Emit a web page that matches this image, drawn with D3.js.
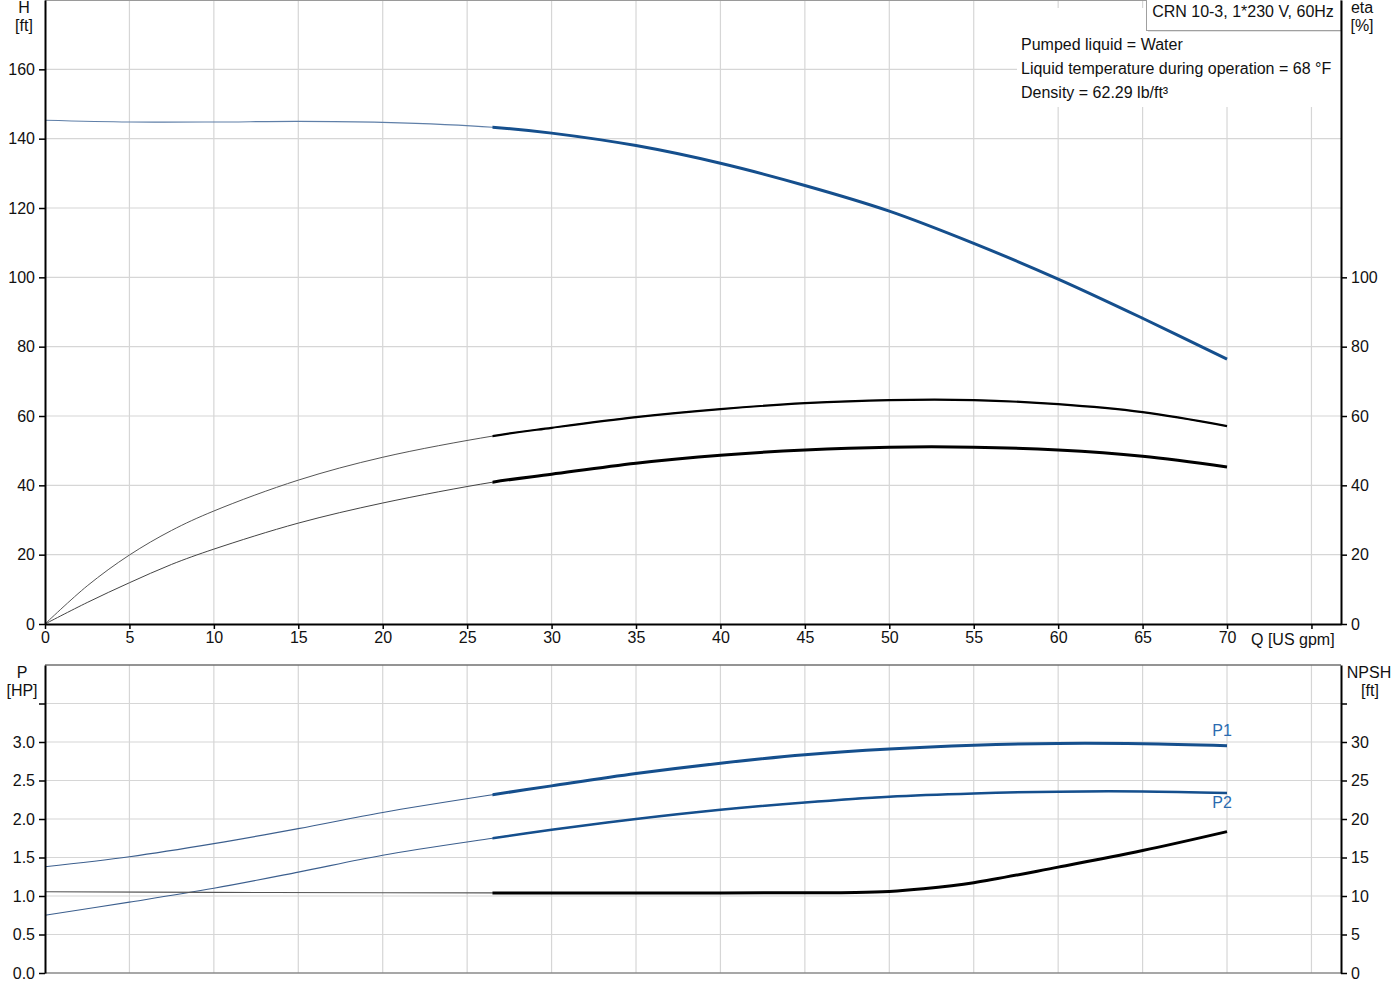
<!DOCTYPE html>
<html><head><meta charset="utf-8">
<script src="https://cdn.jsdelivr.net/npm/d3@7"></script>
<style>
html,body{margin:0;padding:0;background:#fff;}
svg text{font-family:"Liberation Sans",Arial,sans-serif;}
</style></head>
<body><svg id="c" width="1400" height="1000"></svg>
<script>
// ---------- data ----------
const qTicks = [0,5,10,15,20,25,30,35,40,45,50,55,60,65,70];
const qGrid = [5,10,15,20,25,30,35,40,45,50,55,60,65,70,75];
const hTicks = [0,20,40,60,80,100,120,140,160];
const etaTicks = [0,20,40,60,80,100];
const pTicks = [0,0.5,1,1.5,2,2.5,3,3.5];
const npshTicks = [0,5,10,15,20,25,30,35];
const dutyStart = 26.5;

const qH   = [0,5,10,15,20,26.5,30,35,40,45,50,55,60,65,70];
const hVal = [145.3,144.8,144.8,145.0,144.7,143.3,141.6,138.0,132.9,126.5,119.1,109.8,99.5,88.2,76.4];

const qEta = [0,2.5,5,7.5,10,15,20,26.5,30,35,40,45,50,55,60,65,70];
const eta1 = [0,11,19.9,27,32.6,41.5,48.1,54.2,56.6,59.7,62.0,63.7,64.6,64.6,63.4,61.1,57.1];
const eta2 = [0,6.2,11.9,17.2,21.6,29.1,34.9,40.9,43.2,46.4,48.7,50.2,51.0,51.0,50.2,48.4,45.3];

const qP  = [0,5,10,15,20,26.5,30,35,40,45,50,55,60,65,70];
const p1  = [1.38,1.51,1.68,1.875,2.085,2.315,2.43,2.59,2.725,2.835,2.91,2.958,2.982,2.978,2.952];
const p2  = [0.75,0.92,1.10,1.31,1.53,1.75,1.86,2.00,2.12,2.215,2.29,2.332,2.355,2.357,2.337];

const qN  = [0,10,20,26.5,30,40,45,48,50,52,55,60,65,70];
const npsh= [10.55,10.47,10.42,10.4,10.4,10.4,10.42,10.46,10.6,10.95,11.73,13.75,15.9,18.36];

const infoLines = ["Pumped liquid = Water","Liquid temperature during operation = 68 °F","Density = 62.29 lb/ft³"];
const title = "CRN 10-3, 1*230 V, 60Hz";

// ---------- scales ----------
const svg = d3.select("#c");
const L = 45, R = 1341;
const x = d3.scaleLinear().domain([0,76.75]).range([L,R]);
const yH = d3.scaleLinear().domain([0,180]).range([624,0]);
const yEta = d3.scaleLinear().domain([0,180]).range([624,0]);
const yP = d3.scaleLinear().domain([0,4]).range([973,665]);
const yN = d3.scaleLinear().domain([0,40]).range([973,665]);

const BLUE = "#154f8d", LBLUE = "#2a6bb0", GRID = "#d6d6d6";
const FS = 16;

// ---------- top chart grid ----------
const gTop = svg.append("g");
gTop.selectAll(".vg").data(qGrid).join("line")
  .attr("x1",d=>x(d)).attr("x2",d=>x(d)).attr("y1",yH(180)).attr("y2",yH(0))
  .attr("stroke",GRID).attr("stroke-width",1.2);
gTop.selectAll(".hg").data(hTicks.slice(1)).join("line")
  .attr("x1",L).attr("x2",R).attr("y1",d=>yH(d)).attr("y2",d=>yH(d))
  .attr("stroke",GRID).attr("stroke-width",1.2);
gTop.append("line").attr("x1",L).attr("x2",R).attr("y1",yH(180)+0.5).attr("y2",yH(180)+0.5)
  .attr("stroke","#9a9a9a").attr("stroke-width",1);

// bottom chart grid
const gBot = svg.append("g");
gBot.selectAll(".vg").data(qGrid).join("line")
  .attr("x1",d=>x(d)).attr("x2",d=>x(d)).attr("y1",yP(4)).attr("y2",yP(0))
  .attr("stroke",GRID).attr("stroke-width",1.2);
gBot.selectAll(".hg").data(pTicks.slice(1)).join("line")
  .attr("x1",L).attr("x2",R).attr("y1",d=>yP(d)).attr("y2",d=>yP(d))
  .attr("stroke",GRID).attr("stroke-width",1.2);
gBot.append("line").attr("x1",L).attr("x2",R).attr("y1",yP(4)).attr("y2",yP(4))
  .attr("stroke","#707070").attr("stroke-width",1.3);
gBot.append("line").attr("x1",L).attr("x2",R).attr("y1",yP(0)).attr("y2",yP(0))
  .attr("stroke","#8a8a8a").attr("stroke-width",1.5);

// ---------- info box (covers grid) ----------
svg.append("rect").attr("x",1017).attr("y",8).attr("width",R-1017).attr("height",99).attr("fill","#fff");
svg.append("rect").attr("x",1146.5).attr("y",-1).attr("width",R-1146.5).attr("height",31.5)
  .attr("fill","#fff").attr("stroke","#a0a0a0").attr("stroke-width",1);
svg.append("line").attr("x1",1148).attr("x2",R).attr("y1",31.5).attr("y2",31.5).attr("stroke","#e4e4e4");
svg.append("text").attr("x",1243).attr("y",17).attr("text-anchor","middle").attr("font-size",16)
  .attr("fill","#111").text(title);
svg.selectAll(".info").data(infoLines).join("text")
  .attr("x",1021).attr("y",(d,i)=>49.5+i*24).attr("font-size",FS).attr("fill","#111").text(d=>d);

// ---------- curves ----------
svg.append("clipPath").attr("id","duty").append("rect")
  .attr("x",x(dutyStart)).attr("y",0).attr("width",R-x(dutyStart)).attr("height",1000);

function curve(qs, vs, ys, color, thinW, thickW, thinColor){
  const pts = qs.map((q,i)=>[q,vs[i]]);
  const line = d3.line().x(d=>x(d[0])).y(d=>ys(d[1])).curve(d3.curveCatmullRom.alpha(0.5));
  svg.append("path").attr("d",line(pts)).attr("fill","none")
    .attr("stroke",thinColor||color).attr("stroke-width",thinW);
  svg.append("path").attr("d",line(pts)).attr("fill","none").attr("clip-path","url(#duty)")
    .attr("stroke",color).attr("stroke-width",thickW).attr("stroke-linecap","butt");
}
curve(qH, hVal, yH, BLUE, 1.1, 3, "#5f7fa8");
curve(qEta, eta1, yEta, "#000", 1, 2.2, "#555");
curve(qEta, eta2, yEta, "#000", 1, 3, "#444");
curve(qP, p1, yP, BLUE, 1.1, 3, "#3c5f8e");
curve(qP, p2, yP, BLUE, 1.1, 2.5, "#3c5f8e");
curve(qN, npsh, yN, "#000", 1.1, 3, "#555");

svg.append("text").attr("x",x(70)-5).attr("y",yP(p1[p1.length-1])-10).attr("text-anchor","middle")
  .attr("font-size",FS).attr("fill",LBLUE).text("P1");
svg.append("text").attr("x",x(70)-5).attr("y",yP(p2[p2.length-1])+15).attr("text-anchor","middle")
  .attr("font-size",FS).attr("fill",LBLUE).text("P2");

// ---------- axes ----------
function styleAxis(g){
  g.selectAll(".domain").attr("stroke","#000").attr("stroke-width",2);
  g.selectAll(".tick line").attr("stroke","#000").attr("stroke-width",1.5);
  g.selectAll(".tick text").attr("font-size",FS).attr("fill","#111")
    .attr("font-family","'Liberation Sans',Arial,sans-serif");
}
const axL = svg.append("g").attr("transform",`translate(${L},0)`)
  .call(d3.axisLeft(yH).tickValues(hTicks).tickSize(6).tickSizeOuter(0).tickPadding(4));
styleAxis(axL);
const axR = svg.append("g").attr("transform",`translate(${R},0)`)
  .call(d3.axisRight(yEta).tickValues(etaTicks).tickSize(6).tickSizeOuter(0).tickPadding(4));
styleAxis(axR);
const axX = svg.append("g").attr("transform",`translate(0,${yH(0)})`)
  .call(d3.axisBottom(x).tickValues(qGrid.concat([0])).tickSize(5).tickSizeOuter(0).tickPadding(3)
  .tickFormat(d=>qTicks.includes(d)?d:""));
styleAxis(axX);

const axPL = svg.append("g").attr("transform",`translate(${L},0)`)
  .call(d3.axisLeft(yP).tickValues(pTicks).tickSize(6).tickSizeOuter(0).tickPadding(4)
  .tickFormat(d=>d<3.2?d3.format(".1f")(d):""));
styleAxis(axPL);
const axPR = svg.append("g").attr("transform",`translate(${R},0)`)
  .call(d3.axisRight(yN).tickValues(npshTicks).tickSize(6).tickSizeOuter(0).tickPadding(4)
  .tickFormat(d=>d<32?d:""));
styleAxis(axPR);

// axis titles
function label(xp, yp, txt, anchor){
  svg.append("text").attr("x",xp).attr("y",yp).attr("text-anchor",anchor||"middle")
    .attr("font-size",FS).attr("fill","#111").text(txt);
}
label(24,13,"H"); label(24,31,"[ft]");
label(1362,13,"eta"); label(1362,31,"[%]");
label(22,678,"P"); label(22,696,"[HP]");
label(1369,678,"NPSH"); label(1370,696,"[ft]");
label(1251,645,"Q [US gpm]","start");
</script></body></html>
